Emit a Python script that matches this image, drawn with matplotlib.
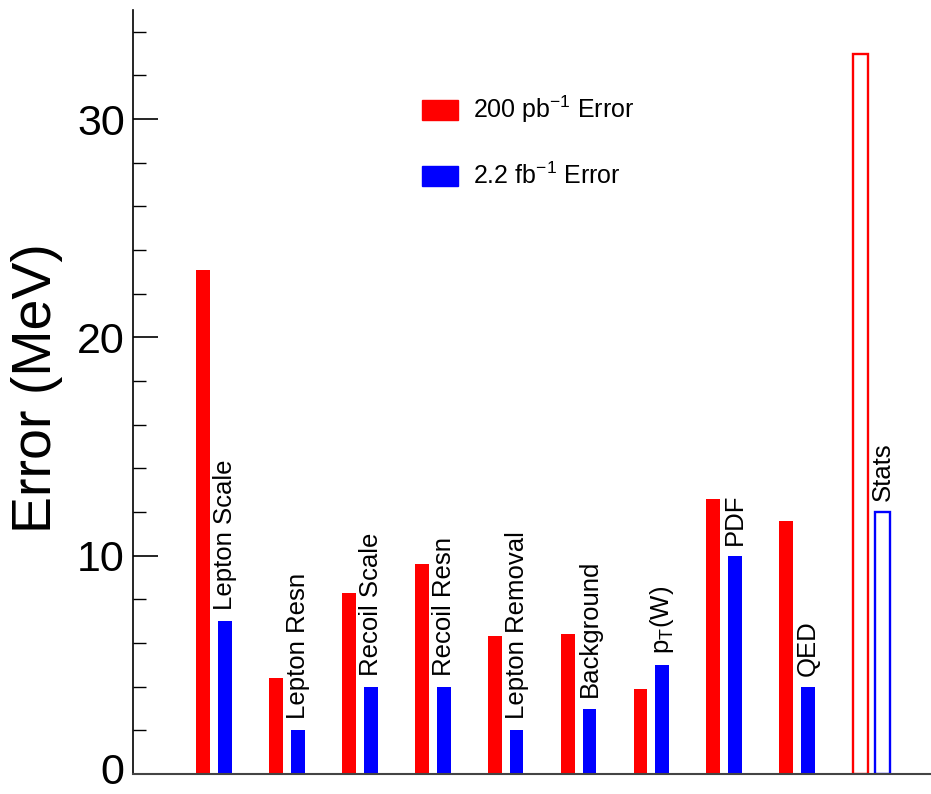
import matplotlib
matplotlib.use("Agg")
import matplotlib.pyplot as plt
import matplotlib.patches as mpatches
from matplotlib.ticker import MultipleLocator
from matplotlib.transforms import ScaledTranslation
import numpy as np

plt.rcParams["font.family"] = ["Liberation Sans", "DejaVu Sans"]
plt.rcParams["mathtext.default"] = "regular"

categories = ["Lepton Scale", "Lepton Resn", "Recoil Scale", "Recoil Resn",
              "Lepton Removal", "Background", "p$_T$(W)", "PDF", "QED", "Stats"]
err_200pb = [23.1, 4.4, 8.3, 9.6, 6.3, 6.4, 3.9, 12.6, 11.6, 33.0]
err_2p2fb = [7.0, 2.0, 4.0, 4.0, 2.0, 3.0, 5.0, 10.0, 4.0, 12.0]
yticks = [0, 10, 20, 30]

fig = plt.figure(figsize=(9.31, 7.94), dpi=100)
ax = fig.add_axes([133 / 931, 20 / 794, 798 / 931, 764 / 794])

x = np.arange(len(categories))
off = 0.15
w = 0.19

# systematic bars filled, stats bars drawn hollow
n = len(categories) - 1
ax.bar(x[:n] - off, err_200pb[:n], w, color="#ff0000")
ax.bar(x[:n] + off, err_2p2fb[:n], w, color="#0000ff")
ax.bar(x[n:] - off + 0.02, err_200pb[n:], w + 0.02, facecolor="white", edgecolor="#ff0000", linewidth=1.7)
ax.bar(x[n:] + off + 0.02, err_2p2fb[n:], w + 0.02, facecolor="white", edgecolor="#0000ff", linewidth=1.7)

for i, lab in enumerate(categories):
    xx = x[i] + off + (0.02 if i == n else 0)
    ax.annotate(lab, (xx, err_2p2fb[i]), xytext=(0, 8), textcoords="offset points",
                rotation=90, ha="center", va="bottom", fontsize=18.5)

ax.set_xlim(-1.111, 9.835)
ax.set_ylim(0, 35)
ax.set_xticks([])
ax.set_yticks(yticks)
ax.yaxis.set_minor_locator(MultipleLocator(2))
ax.tick_params(axis="y", which="major", direction="in", length=18, width=1.2, labelsize=31, pad=6)
ax.tick_params(axis="y", which="minor", direction="in", length=9, width=1.0)
for s in ["top", "right"]:
    ax.spines[s].set_visible(False)
ax.spines["left"].set_linewidth(1.2)
ax.spines["bottom"].set_linewidth(1.5)
ax.spines["bottom"].set_color("#444444")

# nudge the "0" up a little so it stays inside the canvas
zero = ax.get_yticklabels()[0]
zero.set_transform(zero.get_transform() + ScaledTranslation(0, 5 / 100, fig.dpi_scale_trans))

ax.set_ylabel("Error (MeV)", fontsize=40)
ax.yaxis.set_label_coords(-0.088, 0.505)

patch1 = mpatches.Patch(color="#ff0000", label="200 pb$^{-1}$ Error")
patch2 = mpatches.Patch(color="#0000ff", label="2.2 fb$^{-1}$ Error")
fig.legend(handles=[patch1, patch2], loc="upper left", bbox_to_anchor=(422 / 931, 1 - 94 / 794),
           frameon=False, fontsize=18, handlelength=1.45, handleheight=0.85,
           handletextpad=0.6, labelspacing=1.5, borderpad=0, borderaxespad=0)

fig.savefig("out.png", dpi=100)
